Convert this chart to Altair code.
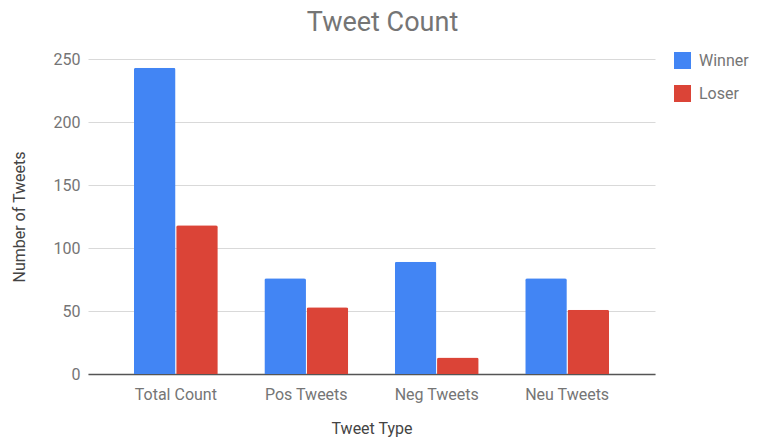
import altair as alt
import pandas as pd

categories = ["Total Count", "Pos Tweets", "Neg Tweets", "Neu Tweets"]
series = ["Winner", "Loser"]
winner = [243, 76, 89, 76]
loser = [118, 53, 13, 51]
colors = ["#4285F4", "#DB4437"]

rows = []
for c, w, l in zip(categories, winner, loser):
    rows.append({"type": c, "series": "Winner", "value": w})
    rows.append({"type": c, "series": "Loser", "value": l})
df = pd.DataFrame(rows)

FONT = "Roboto"

chart = alt.Chart(df).mark_bar(
    cornerRadiusTopLeft=2, cornerRadiusTopRight=2
).encode(
    x=alt.X("type:N", sort=categories, title="Tweet Type",
            scale=alt.Scale(paddingInner=0.357, paddingOuter=0.352),
            axis=alt.Axis(labelAngle=0, ticks=False, domainColor="#555555",
                          domainWidth=1.5, labelPadding=12, titlePadding=18,
                          labelColor="#757575", labelFontSize=16,
                          titleColor="#444444", titleFontSize=16,
                          titleFontWeight="normal", labelFont=FONT, titleFont=FONT)),
    xOffset=alt.XOffset("series:N", sort=series,
                        scale=alt.Scale(paddingInner=0.015)),
    y=alt.Y("value:Q", title="Number of Tweets",
            scale=alt.Scale(domain=[0, 250]),
            axis=alt.Axis(values=[0, 50, 100, 150, 200, 250], domain=False,
                          ticks=False, gridColor="#d9d9d9", labelPadding=8,
                          titlePadding=26, labelColor="#757575", labelFontSize=16,
                          titleColor="#444444", titleFontSize=16,
                          titleFontWeight="normal", labelFont=FONT, titleFont=FONT)),
    color=alt.Color("series:N", sort=series,
                    scale=alt.Scale(domain=series, range=colors),
                    legend=alt.Legend(title=None, orient="none", legendX=586,
                                      legendY=-7, symbolType="square",
                                      symbolSize=289, symbolStrokeWidth=0,
                                      symbolOpacity=1, rowPadding=16,
                                      labelFontSize=16, labelColor="#757575",
                                      labelFont=FONT, labelOffset=8)),
).properties(
    width=567, height=315,
    title=alt.TitleParams("Tweet Count", fontSize=27, font=FONT,
                          fontWeight="normal", color="#757575",
                          anchor="middle", dx=11, offset=14),
    autosize=alt.AutoSizeParams(type="none"),
    padding={"left": 80, "top": 51, "right": 97, "bottom": 66},
).configure_view(stroke=None)

chart.save("out.html", embed_options={"renderer": "svg", "actions": False})
